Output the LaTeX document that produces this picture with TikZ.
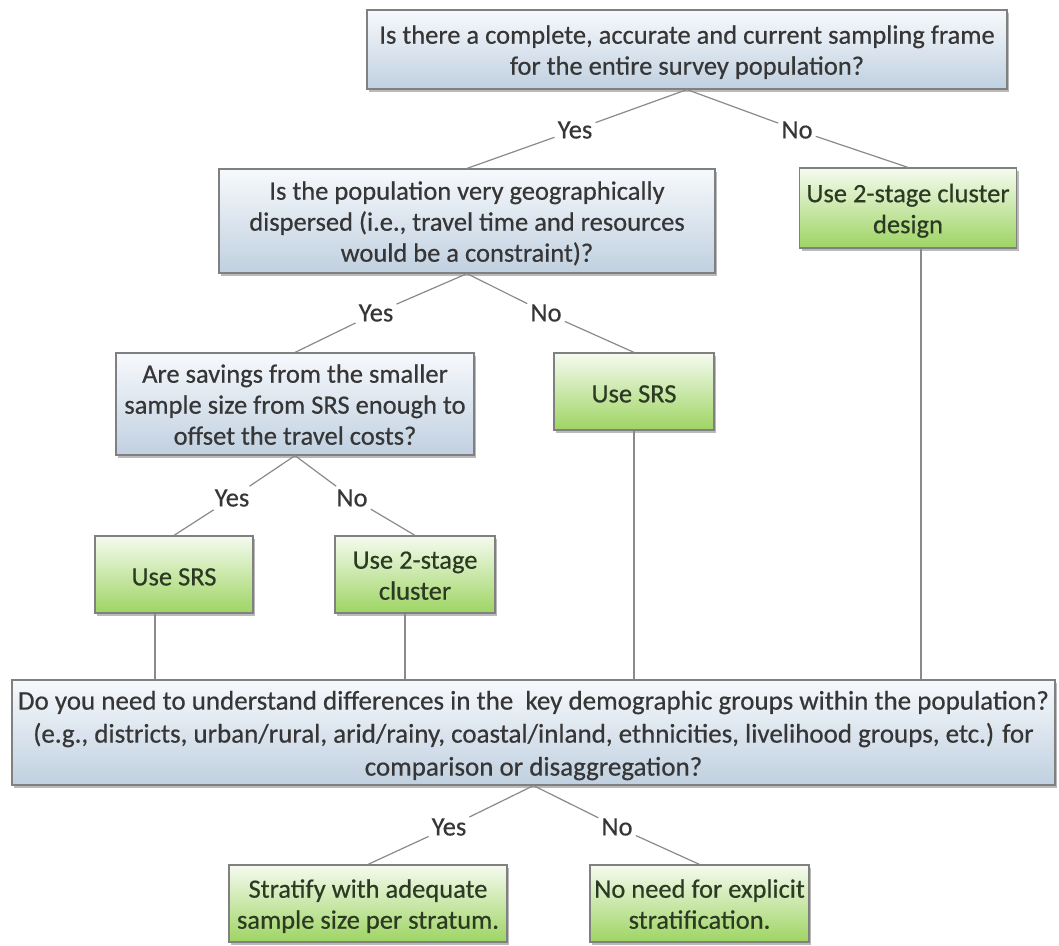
\documentclass[tikz,border=0pt]{standalone}
\usepackage{fontspec}
\setmainfont{Carlito}[FakeBold=0.5]
\usetikzlibrary{shadows}
\definecolor{txt}{HTML}{363636}
\definecolor{gtxt}{HTML}{2C3A24}
\definecolor{edgec}{HTML}{808080}
\definecolor{linec}{HTML}{8A8A8A}
\definecolor{btop}{HTML}{F7F9FC}
\definecolor{bbot}{HTML}{C0D0E0}
\definecolor{gtop}{HTML}{F5FBEF}
\definecolor{gbot}{HTML}{9ED463}
\newcommand\boxlines[1]{\raisebox{-3.5pt}[\height][\depth]{\begin{tabular}{@{}c@{}}#1\end{tabular}}}
\begin{document}
\begin{tikzpicture}[x=1pt,y=-1pt,
  box/.style={draw=edgec, line width=1.2pt, inner sep=2pt,
    font=\fontsize{26.5}{31}\selectfont,
    drop shadow={shadow xshift=2pt, shadow yshift=-3pt, opacity=0.45, fill=black!60}},
  oneline/.style={execute at begin node={\rule{0pt}{22pt}}},
  qbox/.style={box, top color=btop, bottom color=bbot, text=txt},
  gbox/.style={box, top color=gtop, bottom color=gbot, text=gtxt},
  lab/.style={font=\fontsize{26.5}{31}\selectfont, text=txt, inner sep=3pt},
  conn/.style={draw=linec, line width=1.2pt}]
\useasboundingbox[fill=white] (0,0) rectangle (1059,945);

\node[qbox, minimum width=640pt, minimum height=79pt] (q1) at (687,49.5)
  {\boxlines{Is there a complete, accurate and current sampling frame\\for the entire survey population?}};
\node[qbox, minimum width=496pt, minimum height=104pt] (q2) at (467,221)
  {\boxlines{Is the population very geographically\\dispersed (i.e., travel time and resources\\would be a constraint)?}};
\node[gbox, minimum width=217pt, minimum height=80pt] (d1) at (908,208)
  {\boxlines{Use 2-stage cluster\\design}};
\node[qbox, minimum width=358pt, minimum height=102pt] (q3) at (295,404)
  {\boxlines{Are savings from the smaller\\sample size from SRS enough to\\offset the travel costs?}};
\node[gbox, oneline, minimum width=160pt, minimum height=77pt] (srs2) at (634,391.5) {Use SRS};
\node[gbox, oneline, minimum width=158pt, minimum height=77pt] (srs1) at (174,574.5) {Use SRS};
\node[gbox, minimum width=160pt, minimum height=77pt] (c2) at (415,574.5) {\boxlines{Use 2-stage\\cluster}};
\node[qbox, minimum width=1043pt, minimum height=105pt, font=\fontsize{27}{33}\selectfont] (q4) at (533.5,732.5)
  {\boxlines{Do you need to understand differences in the\ \ key demographic groups within the population?\\(e.g., districts, urban/rural, arid/rainy, coastal/inland, ethnicities, livelihood groups, etc.) for\\comparison or disaggregation?}};
\node[gbox, minimum width=278pt, minimum height=77pt] (s1) at (368,903.5)
  {\boxlines{Stratify with adequate\\sample size per stratum.}};
\node[gbox, minimum width=219pt, minimum height=77pt] (s2) at (699.5,903.5)
  {\boxlines{No need for explicit\\stratification.}};

\node[lab] (y1) at (575,130) {Yes};
\node[lab] (n1) at (797,130) {No};
\node[lab] (y2) at (376,313) {Yes};
\node[lab] (n2) at (546,313) {No};
\node[lab] (y3) at (232,498) {Yes};
\node[lab] (n3) at (352,498) {No};
\node[lab] (y4) at (449,827) {Yes};
\node[lab] (n4) at (617,827) {No};

\draw[conn] (q1.south) -- (y1);
\draw[conn] (y1) -- (q2.north);
\draw[conn] (q1.south) -- (n1);
\draw[conn] (n1) -- (d1.north);
\draw[conn] (q2.south) -- (y2);
\draw[conn] (y2) -- (q3.north);
\draw[conn] (q2.south) -- (n2);
\draw[conn] (n2) -- (srs2.north);
\draw[conn] (q3.south) -- (y3);
\draw[conn] (y3) -- (srs1.north);
\draw[conn] (q3.south) -- (n3);
\draw[conn] (n3) -- (c2.north);
\draw[conn] (q4.south) -- (y4);
\draw[conn] (y4) -- (s1.north);
\draw[conn] (q4.south) -- (n4);
\draw[conn] (n4) -- (s2.north);

\draw[conn] ([xshift=-19pt]srs1.south) -- ([xshift=-19pt]srs1.south |- q4.north);
\draw[conn] ([xshift=-10pt]c2.south) -- ([xshift=-10pt]c2.south |- q4.north);
\draw[conn] (srs2.south) -- (srs2.south |- q4.north);
\draw[conn] ([xshift=13pt]d1.south) -- ([xshift=13pt]d1.south |- q4.north);
\end{tikzpicture}
\end{document}
